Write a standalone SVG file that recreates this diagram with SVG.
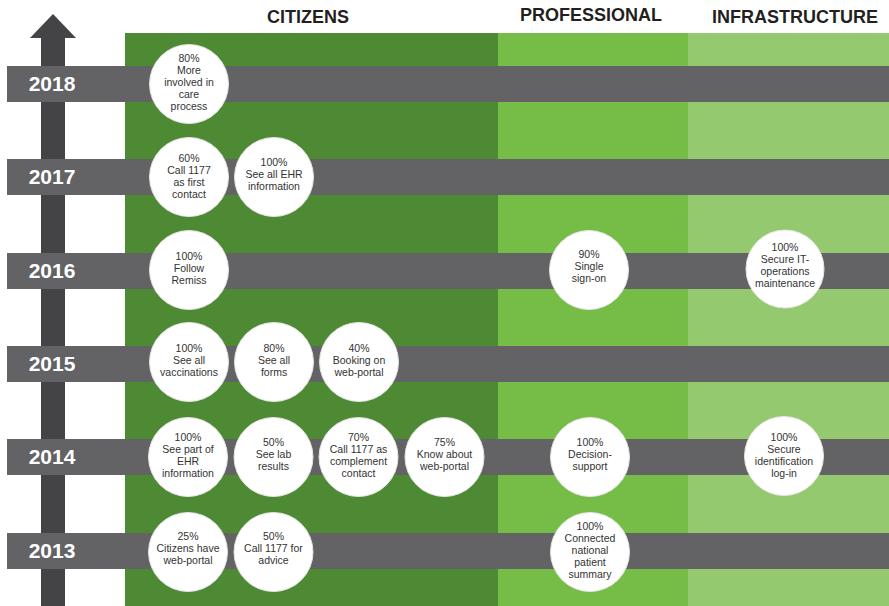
<svg xmlns="http://www.w3.org/2000/svg" width="889" height="606" viewBox="0 0 889 606">
<style>
.band{fill:#636365}
.yr{font-family:"Liberation Sans",Arial,sans-serif;font-weight:bold;font-size:21px;fill:#ffffff;text-anchor:middle}
.hd{font-family:"Liberation Sans",Arial,sans-serif;font-weight:bold;font-size:18px;fill:#231f20;text-anchor:middle}
.c{fill:#ffffff;stroke:#e6e6e6;stroke-width:1}
.t{font-family:"Liberation Sans",Arial,sans-serif;font-size:10.5px;fill:#333333;text-anchor:middle}
</style>
<rect x="0" y="0" width="889" height="606" fill="#ffffff"/>
<g id="columns">
<rect x="125" y="33" width="373" height="573" fill="#4e8a34"/>
<rect x="498" y="33" width="190" height="573" fill="#76bd48"/>
<rect x="688" y="33" width="201" height="573" fill="#94c96f"/>
</g>
<g id="headers">
<text class="hd" x="308" y="23">CITIZENS</text>
<text class="hd" x="591" y="21">PROFESSIONAL</text>
<text class="hd" x="795" y="23">INFRASTRUCTURE</text>
</g>
<g id="arrow">
<rect x="41" y="36" width="24" height="570" fill="#444446"/>
<polygon points="53,14 76,38 30,38" fill="#444446"/>
</g>
<g id="bands">
<rect class="band" x="7" y="66" width="882" height="36"/>
<rect class="band" x="7" y="159" width="882" height="36"/>
<rect class="band" x="7" y="253" width="882" height="36"/>
<rect class="band" x="7" y="346" width="882" height="36"/>
<rect class="band" x="7" y="439" width="882" height="36"/>
<rect class="band" x="7" y="533" width="882" height="36"/>
<text class="yr" x="52" y="91">2018</text>
<text class="yr" x="52" y="184">2017</text>
<text class="yr" x="52" y="278">2016</text>
<text class="yr" x="52" y="371">2015</text>
<text class="yr" x="52" y="464">2014</text>
<text class="yr" x="52" y="558">2013</text>
</g>
<g id="n2018a"><circle class="c" cx="189" cy="84" r="39.5"/><text class="t" x="189" y="62"><tspan x="189" dy="0">80%</tspan><tspan x="189" dy="12">More</tspan><tspan x="189" dy="12">involved in</tspan><tspan x="189" dy="12">care</tspan><tspan x="189" dy="12">process</tspan></text></g>
<g id="n2017a"><circle class="c" cx="189" cy="177" r="39.5"/><text class="t" x="189" y="162"><tspan x="189" dy="0">60%</tspan><tspan x="189" dy="12">Call 1177</tspan><tspan x="189" dy="12">as first</tspan><tspan x="189" dy="12">contact</tspan></text></g>
<g id="n2017b"><circle class="c" cx="274" cy="177" r="39.5"/><text class="t" x="274" y="166"><tspan x="274" dy="0">100%</tspan><tspan x="274" dy="12">See all EHR</tspan><tspan x="274" dy="12">information</tspan></text></g>
<g id="n2016a"><circle class="c" cx="189" cy="270" r="39.5"/><text class="t" x="189" y="260"><tspan x="189" dy="0">100%</tspan><tspan x="189" dy="12">Follow</tspan><tspan x="189" dy="12">Remiss</tspan></text></g>
<g id="n2016p"><circle class="c" cx="589" cy="270" r="39.5"/><text class="t" x="589" y="258"><tspan x="589" dy="0">90%</tspan><tspan x="589" dy="12">Single</tspan><tspan x="589" dy="12">sign-on</tspan></text></g>
<g id="n2016i"><circle class="c" cx="785" cy="269" r="39"/><text class="t" x="785" y="251"><tspan x="785" dy="0">100%</tspan><tspan x="785" dy="12">Secure IT-</tspan><tspan x="785" dy="12">operations</tspan><tspan x="785" dy="12">maintenance</tspan></text></g>
<g id="n2015a"><circle class="c" cx="189" cy="362" r="39.5"/><text class="t" x="189" y="352"><tspan x="189" dy="0">100%</tspan><tspan x="189" dy="12">See all</tspan><tspan x="189" dy="12">vaccinations</tspan></text></g>
<g id="n2015b"><circle class="c" cx="274" cy="362" r="39.5"/><text class="t" x="274" y="352"><tspan x="274" dy="0">80%</tspan><tspan x="274" dy="12">See all</tspan><tspan x="274" dy="12">forms</tspan></text></g>
<g id="n2015c"><circle class="c" cx="359" cy="362" r="39.5"/><text class="t" x="359" y="352"><tspan x="359" dy="0">40%</tspan><tspan x="359" dy="12">Booking on</tspan><tspan x="359" dy="12">web-portal</tspan></text></g>
<g id="n2014a"><circle class="c" cx="188" cy="457" r="39.5"/><text class="t" x="188" y="441"><tspan x="188" dy="0">100%</tspan><tspan x="188" dy="12">See part of</tspan><tspan x="188" dy="12">EHR</tspan><tspan x="188" dy="12">information</tspan></text></g>
<g id="n2014b"><circle class="c" cx="273.5" cy="457" r="39.5"/><text class="t" x="273.5" y="446"><tspan x="273.5" dy="0">50%</tspan><tspan x="273.5" dy="12">See lab</tspan><tspan x="273.5" dy="12">results</tspan></text></g>
<g id="n2014c"><circle class="c" cx="358.5" cy="457" r="39.5"/><text class="t" x="358.5" y="441"><tspan x="358.5" dy="0">70%</tspan><tspan x="358.5" dy="12">Call 1177 as</tspan><tspan x="358.5" dy="12">complement</tspan><tspan x="358.5" dy="12">contact</tspan></text></g>
<g id="n2014d"><circle class="c" cx="444.5" cy="457" r="39.5"/><text class="t" x="444.5" y="446"><tspan x="444.5" dy="0">75%</tspan><tspan x="444.5" dy="12">Know about</tspan><tspan x="444.5" dy="12">web-portal</tspan></text></g>
<g id="n2014p"><circle class="c" cx="590" cy="457" r="39.5"/><text class="t" x="590" y="446"><tspan x="590" dy="0">100%</tspan><tspan x="590" dy="12">Decision-</tspan><tspan x="590" dy="12">support</tspan></text></g>
<g id="n2014i"><circle class="c" cx="784" cy="456" r="39.5"/><text class="t" x="784" y="441"><tspan x="784" dy="0">100%</tspan><tspan x="784" dy="12">Secure</tspan><tspan x="784" dy="12">identification</tspan><tspan x="784" dy="12">log-in</tspan></text></g>
<g id="n2013a"><circle class="c" cx="188" cy="552" r="39.5"/><text class="t" x="188" y="540"><tspan x="188" dy="0">25%</tspan><tspan x="188" dy="12">Citizens have</tspan><tspan x="188" dy="12">web-portal</tspan></text></g>
<g id="n2013b"><circle class="c" cx="273.5" cy="552" r="39.5"/><text class="t" x="273.5" y="540"><tspan x="273.5" dy="0">50%</tspan><tspan x="273.5" dy="12">Call 1177 for</tspan><tspan x="273.5" dy="12">advice</tspan></text></g>
<g id="n2013p"><circle class="c" cx="590" cy="552" r="39.5"/><text class="t" x="590" y="530"><tspan x="590" dy="0">100%</tspan><tspan x="590" dy="12">Connected</tspan><tspan x="590" dy="12">national</tspan><tspan x="590" dy="12">patient</tspan><tspan x="590" dy="12">summary</tspan></text></g>
<g id="connectors"></g>
</svg>
